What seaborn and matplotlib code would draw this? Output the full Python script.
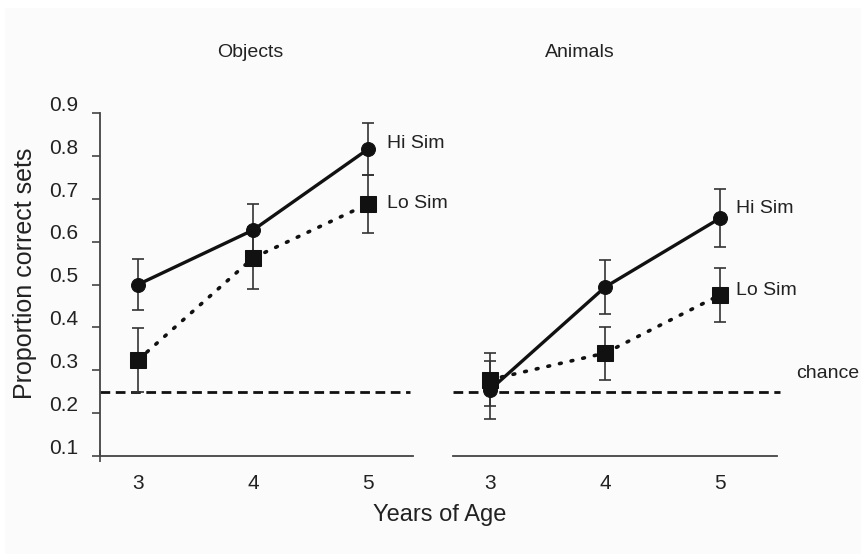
import numpy as np
import pandas as pd
import matplotlib
matplotlib.use("Agg")
import matplotlib.pyplot as plt
import matplotlib.transforms as mtrans
import seaborn as sns

# data
ages = [3, 4, 5]
obj_hi = [0.50, 0.627, 0.816]
obj_hi_err = [0.06, 0.06, 0.06]
obj_lo = [0.324, 0.562, 0.688]
obj_lo_err = [0.075, 0.073, 0.068]
ani_hi = [0.254, 0.494, 0.655]
ani_hi_err = [0.067, 0.063, 0.068]
ani_lo = [0.278, 0.340, 0.476]
ani_lo_err = [0.062, 0.062, 0.063]
chance = 0.25
yticks = [0.1, 0.2, 0.3, 0.4, 0.5, 0.6, 0.7, 0.8, 0.9]

rows = []
for panel, hi, lo in [("Objects", obj_hi, obj_lo), ("Animals", ani_hi, ani_lo)]:
    for a, h, l in zip(ages, hi, lo):
        rows.append({"panel": panel, "age": a, "cond": "Hi Sim", "prop": h})
        rows.append({"panel": panel, "age": a, "cond": "Lo Sim", "prop": l})
df = pd.DataFrame(rows)
errs = {("Objects", "Hi Sim"): obj_hi_err, ("Objects", "Lo Sim"): obj_lo_err,
        ("Animals", "Hi Sim"): ani_hi_err, ("Animals", "Lo Sim"): ani_lo_err}

sns.set_style("white")
plt.rcParams["font.family"] = ["Liberation Sans", "DejaVu Sans"]
ink = "#222222"
bg = "#fbfbfb"

fig = plt.figure(figsize=(8.66, 5.6), dpi=100, facecolor="white")
fig.patches.append(plt.Rectangle((0.006, 0.01), 0.988, 0.975, transform=fig.transFigure,
                                 facecolor=bg, edgecolor="none", zorder=-10))
ax1 = fig.add_axes([0.1155, 0.1857, 0.3615, 0.6125])
ax2 = fig.add_axes([0.523, 0.1857, 0.374, 0.6125])

styles = {"Hi Sim": dict(ls="-", marker="o", ms=10, lw=2.4),
          "Lo Sim": dict(ls=(0, (0.5, 2.8)), marker="s", ms=11, lw=2.6)}

for ax, panel, xlim in [(ax1, "Objects", (2.67, 5.39)), (ax2, "Animals", (2.68, 5.49))]:
    ax.set_facecolor(bg)
    d = df[df.panel == panel]
    for cond in ["Lo Sim", "Hi Sim"]:
        sub = d[d.cond == cond]
        st = styles[cond]
        ax.errorbar(sub.age, sub.prop, yerr=errs[(panel, cond)], fmt="none",
                    ecolor="#333333", elinewidth=1.2, capsize=4, capthick=1.2, zorder=2)
        sns.lineplot(data=sub, x="age", y="prop", ax=ax, color="#111111",
                     linestyle=st["ls"], lw=st["lw"], marker=st["marker"],
                     markersize=st["ms"], markeredgecolor="#111111",
                     dash_capstyle="round", zorder=3, legend=False)
    ax.axhline(chance, color="#111111", lw=2, ls=(0, (3.5, 2)), zorder=1,
               xmin=0, xmax=0.99 if panel == "Objects" else 1.01, clip_on=False)
    ax.set_xlim(*xlim)
    ax.set_ylim(0.1, 0.9)
    ax.set_xticks(ages)
    ax.set_xticklabels([str(a) for a in ages], fontsize=15, color=ink)
    ax.tick_params(axis="x", length=0, pad=13)
    ax.set_xlabel("")
    ax.set_ylabel("")
    for s in ["top", "right"]:
        ax.spines[s].set_visible(False)
    ax.spines["bottom"].set_color("#444444")
    ax.spines["bottom"].set_linewidth(1.3)

ax1.spines["left"].set_color("#444444")
ax1.spines["left"].set_linewidth(1.3)
ax1.set_yticks(yticks)
ax1.set_yticklabels([f"{v:.1f}" for v in yticks], fontsize=15, color=ink)
ax1.tick_params(axis="y", left=True, length=6, width=1.2, color="#444444", pad=10)
ax1.set_xticks([2.67], minor=True)
ax1.tick_params(axis="x", which="minor", bottom=True, direction="inout", length=8,
                width=1.2, color="#444444")
off = mtrans.ScaledTranslation(0, 7 / 72, fig.dpi_scale_trans)
for lab in ax1.get_yticklabels():
    lab.set_transform(lab.get_transform() + off)
ax2.spines["left"].set_visible(False)
ax2.set_yticks([])

# labels next to the lines
ax1.text(5.16, 0.83, "Hi Sim", fontsize=14, color=ink, va="center")
ax1.text(5.16, 0.69, "Lo Sim", fontsize=14, color=ink, va="center")
ax2.text(5.14, 0.678, "Hi Sim", fontsize=14, color=ink, va="center")
ax2.text(5.14, 0.487, "Lo Sim", fontsize=14, color=ink, va="center")
ax2.text(5.66, 0.292, "chance", fontsize=14, color=ink, va="center", clip_on=False)

fig.text(0.289, 0.907, "Objects", fontsize=14, color=ink, ha="center", va="center")
fig.text(0.670, 0.907, "Animals", fontsize=14, color=ink, ha="center", va="center")
fig.text(0.508, 0.080, "Years of Age", fontsize=17, color=ink, ha="center", va="center")
fig.text(0.029, 0.5125, "Proportion correct sets", fontsize=18, color=ink,
         ha="center", va="center", rotation=90)

fig.savefig("out.png", dpi=100, facecolor="white")
